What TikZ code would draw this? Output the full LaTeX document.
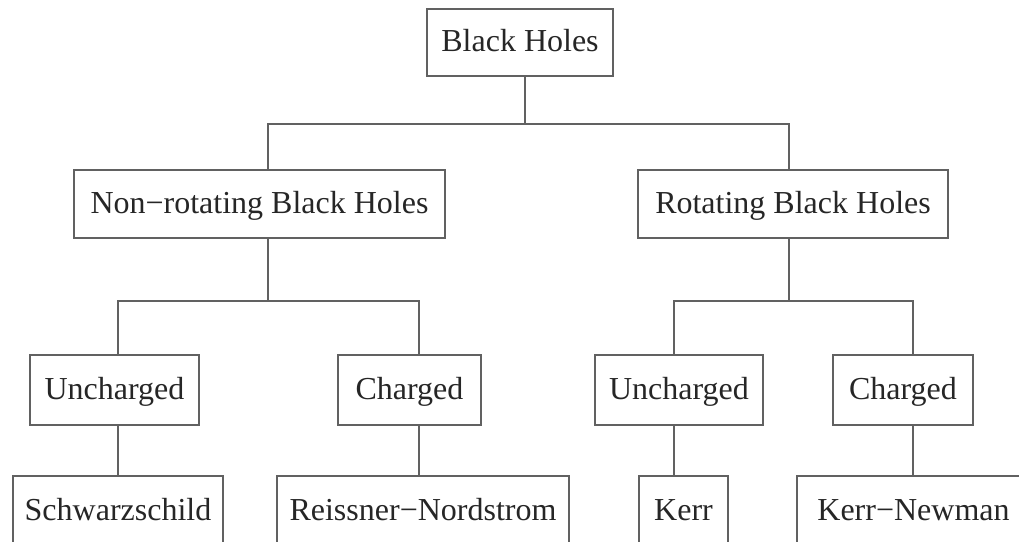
\documentclass[tikz,border=0pt]{standalone}
\usepackage{fontspec}
\setmainfont{Liberation Serif}
\begin{document}
\begin{tikzpicture}[x=1pt,y=-1pt,
  box/.style={draw=black!62, line width=1.4pt, rectangle, inner sep=0pt,
    text height=23pt, text depth=5pt, font=\fontsize{32}{38}\selectfont, text=black!85},
  link/.style={draw=black!62, line width=1.4pt}]
\useasboundingbox (0,0) rectangle (1019,541);
\clip (0,0) rectangle (1019,541);
% level 0
\node[box, minimum width=186pt, minimum height=67pt] (bh) at (520,42.5) {Black Holes};
% level 1
\node[box, minimum width=371pt, minimum height=68pt] (nr) at (259.5,204) {Non−rotating Black Holes};
\node[box, minimum width=310pt, minimum height=68pt] (rot) at (793,204) {Rotating Black Holes};
% level 2
\node[box, minimum width=169pt, minimum height=70pt] (ucl) at (114.5,390) {Uncharged};
\node[box, minimum width=143pt, minimum height=70pt] (chl) at (409.5,390) {Charged};
\node[box, minimum width=168pt, minimum height=70pt] (ucr) at (679,390) {Uncharged};
\node[box, minimum width=140pt, minimum height=70pt] (chr) at (903,390) {Charged};
% level 3
\node[box, minimum width=210pt, minimum height=70pt] (sch) at (118,511) {Schwarzschild};
\node[box, minimum width=292pt, minimum height=70pt] (rn) at (423,511) {Reissner−Nordstrom};
\node[box, minimum width=89pt, minimum height=70pt] (kerr) at (683.5,511) {Kerr};
\node[box, minimum width=233pt, minimum height=70pt] (kn) at (913.5,511) {Kerr−Newman};
% junctions
\coordinate (c0) at (525,124);
\coordinate (cL) at (268,124);
\coordinate (cR) at (789,124);
\coordinate (dL) at (268,301);
\coordinate (dLL) at (118,301);
\coordinate (dLR) at (419,301);
\coordinate (dR) at (789,301);
\coordinate (dRL) at (674,301);
\coordinate (dRR) at (913,301);
% connectors
\draw[link] (bh.south -| c0) -- (c0);
\draw[link] (cL |- nr.north) -- (cL) -- (cR) -- (cR |- rot.north);
\draw[link] (nr.south -| dL) -- (dL);
\draw[link] (rot.south -| dR) -- (dR);
\draw[link] (dLL |- ucl.north) -- (dLL) -- (dLR) -- (dLR |- chl.north);
\draw[link] (dRL |- ucr.north) -- (dRL) -- (dRR) -- (dRR |- chr.north);
\draw[link] (ucl.south -| dLL) -- (dLL |- sch.north);
\draw[link] (chl.south -| dLR) -- (dLR |- rn.north);
\draw[link] (ucr.south -| dRL) -- (dRL |- kerr.north);
\draw[link] (chr.south -| dRR) -- (dRR |- kn.north);
\end{tikzpicture}
\end{document}
